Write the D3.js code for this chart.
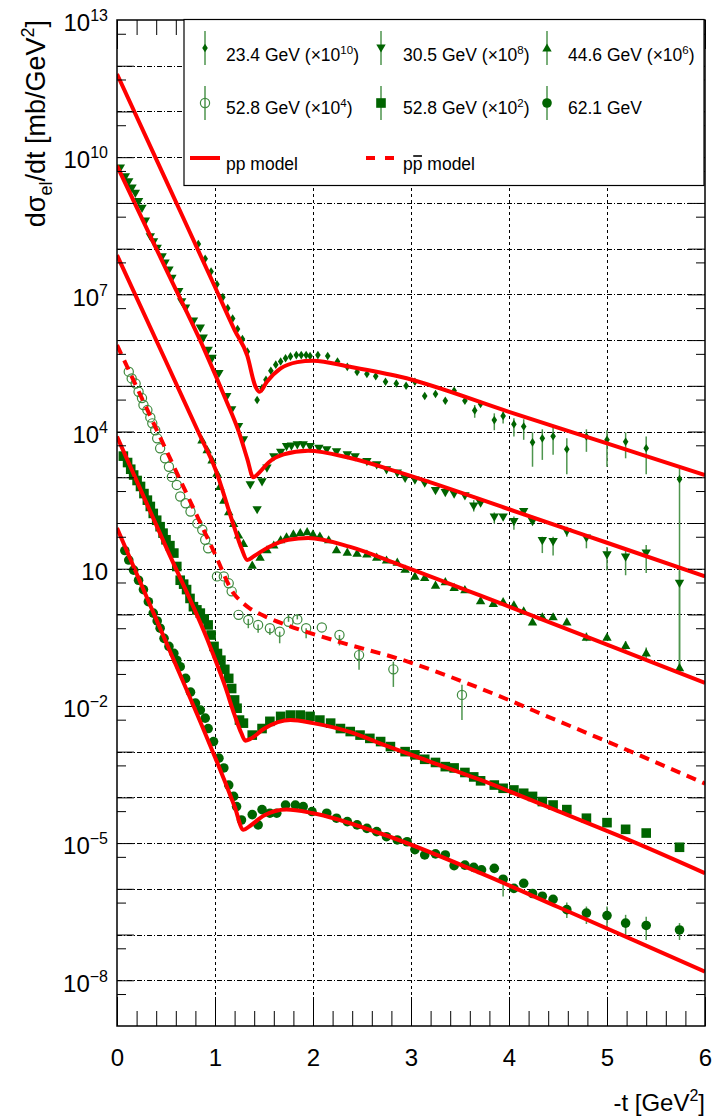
<!DOCTYPE html>
<html>
<meta charset="utf-8">
<style>
  body { margin: 0; background: #fff; }
  svg { font-family: "Liberation Sans", Arial, sans-serif; }
</style>
<body>
<svg width="715" height="1120"></svg>
<script src="https://d3js.org/d3.v7.min.js"></script>
<script>
// ---- model curves (-t in GeV^2, dsigma/dt already multiplied by the offset factor)
let mT23 = [0, 0.5, 1.0, 1.2, 1.33, 1.41, 1.455, 1.53, 1.67, 1.84, 2.0, 2.38, 2.89, 4, 5, 6]
let mV23 = [6.6e11, 3.1e9, 1.45e7, 1.66e6, 4.5e5, 1.0e5, 7.4e4, 1.23e5, 2.4e5, 3.3e5, 3.55e5, 2.6e5, 1.58e5, 2.7e4, 5.5e3, 1.12e3]
let mT30 = [0, 0.5, 0.9, 1.1, 1.25, 1.33, 1.39, 1.45, 1.55, 1.7, 1.95, 2.38, 2.89, 4, 5, 6]
let mV30 = [6.5e9, 3.55e7, 5.6e5, 5.6e4, 8.9e3, 2.5e3, 1.0e3, 1.26e3, 2.14e3, 3.16e3, 3.8e3, 2.63e3, 1.26e3, 2.0e2, 37, 6.8]
let mT44 = [0, 0.5, 0.85, 1.0, 1.19, 1.27, 1.33, 1.4, 1.55, 1.75, 1.95, 2.38, 2.89, 4, 5, 6]
let mV44 = [7.2e7, 3.4e5, 7.9e3, 1.58e3, 89, 28, 15.5, 19, 30, 43, 47, 30, 12, 1.48, 0.22, 0.032]
let mTpb = [0, 0.5, 1.0, 1.19, 1.27, 1.35, 1.5, 1.73, 2.3, 2.89, 3.71, 4.5, 5.3, 6]
let mVpb = [7.8e5, 4.0e3, 21, 2.9, 1.9, 1.38, 0.93, 0.59, 0.24, 0.105, 0.024, 4.7e-3, 8.9e-4, 2.0e-4]
let mT52 = [0, 0.5, 0.95, 1.1, 1.2, 1.27, 1.31, 1.36, 1.5, 1.77, 2.0, 2.4, 2.69, 3.2, 3.71, 4.5, 5.3, 6]
let mV52 = [7.8e3, 30, 0.20, 0.028, 6.3e-3, 2.5e-3, 1.74e-3, 1.9e-3, 3.16e-3, 4.9e-3, 4.2e-3, 2.6e-3, 1.5e-3, 6.0e-4, 2.4e-4, 5.0e-5, 1.0e-5, 2.2e-6]
let mT62 = [0, 0.5, 0.9, 1.1, 1.2, 1.29, 1.36, 1.5, 1.73, 2.0, 2.69, 3.71, 4.5, 5.3, 6]
let mV62 = [78, 0.25, 2.5e-3, 2.24e-4, 6.3e-5, 1.95e-5, 2.4e-5, 4.0e-5, 5.4e-5, 4.5e-5, 1.62e-5, 2.2e-6, 4.0e-7, 7.1e-8, 1.55e-8]

// ---- data points
let t23 = [0.83, 0.90, 0.96, 1.02, 1.08, 1.13, 1.18, 1.23, 1.28, 1.33, 1.43, 1.48, 1.52, 1.57, 1.62, 1.67, 1.72, 1.77, 1.83, 1.88, 1.93, 1.97, 2.05, 2.15, 2.25, 2.35, 2.45, 2.55, 2.64, 2.74, 2.85, 2.95, 3.04, 3.14, 3.25, 3.35, 3.44, 3.55, 3.65, 3.71, 3.85, 3.94, 4.05, 4.15, 4.24, 4.34, 4.45, 4.59, 4.79, 5.0, 5.19, 5.40, 5.74]
let v23 = [1.26e8, 6.0e7, 3.16e7, 1.66e7, 8.7e6, 5.0e6, 2.95e6, 1.74e6, 1.05e6, 5.6e5, 4.9e4, 8.9e4, 1.35e5, 2.14e5, 2.9e5, 3.4e5, 4.0e5, 4.4e5, 4.7e5, 4.7e5, 4.7e5, 4.5e5, 4.7e5, 4.5e5, 3.4e5, 2.6e5, 2.0e5, 1.82e5, 1.62e5, 1.23e5, 1.12e5, 1.0e5, 1.23e5, 6.0e4, 6.6e4, 4.7e4, 7.8e4, 4.7e4, 2.9e4, 4.0e4, 1.78e4, 2.2e4, 1.45e4, 1.29e4, 5.8e3, 7.1e3, 7.9e3, 4.1e3, 7.8e3, 6.6e3, 6.0e3, 4.3e3, 910]
let e23 = [[3.65, 2.0e4, 3.8e4], [3.85, 1.07e4, 2.5e4], [3.94, 1.5e4, 2.7e4], [4.05, 7.8e3, 1.95e4], [4.15, 6.6e3, 1.86e4], [4.24, 1.7e3, 9.5e3], [4.34, 2.4e3, 1.12e4], [4.45, 3.1e3, 1.29e4], [4.59, 1.17e3, 7.1e3], [4.79, 3.6e3, 1.12e4], [5.0, 1.7e3, 1.07e4], [5.19, 2.6e3, 9.5e3], [5.40, 1.17e3, 7.8e3], [5.74, 0.062, 1.58e3]]

let t30 = [0.034, 0.085, 0.12, 0.153, 0.187, 0.22, 0.255, 0.29, 0.34, 0.373, 0.41, 0.46, 0.49, 0.53, 0.56, 0.63, 0.66, 0.70, 0.78, 0.85, 0.88, 0.93, 0.97, 1.04, 1.12, 1.17, 1.24, 1.29, 1.36, 1.43, 1.48, 1.53, 1.6, 1.67, 1.73, 1.78, 1.84, 1.90, 1.97, 2.06, 2.14, 2.24, 2.35, 2.43, 2.55, 2.65, 2.75, 2.86, 2.94, 3.04, 3.14, 3.25, 3.35, 3.44, 3.55, 3.64, 3.71, 3.85, 3.94, 4.05, 4.15, 4.24, 4.34, 4.45, 4.59, 4.79, 5.0, 5.19, 5.40, 5.74]
let v30 = [5.8e9, 3.7e9, 2.9e9, 2.1e9, 1.62e9, 1.07e9, 7.6e8, 4.0e8, 1.82e8, 1.41e8, 1.02e8, 6.6e7, 4.8e7, 3.4e7, 2.24e7, 1.15e7, 6.9e6, 5.0e6, 2.6e6, 1.82e6, 1.1e6, 6.0e5, 4.0e5, 1.86e5, 5.8e4, 3.0e4, 1.29e4, 6.6e3, 680, 195, 790, 1.58e3, 2.8e3, 3.5e3, 4.7e3, 4.8e3, 5.1e3, 5.1e3, 4.7e3, 4.3e3, 4.0e3, 3.6e3, 3.1e3, 2.8e3, 2.2e3, 1.86e3, 1.45e3, 1.23e3, 950, 870, 740, 510, 460, 430, 390, 234, 270, 135, 135, 107, 178, 107, 41, 39, 65, 47, 20, 18, 22, 4.8]
let e30 = [[3.64, 178, 316], [3.85, 98, 170], [4.05, 71, 138], [4.34, 22, 50], [4.45, 19.5, 50], [4.59, 50, 83], [4.79, 28, 55], [5.0, 9.3, 30], [5.19, 7.2, 28], [5.40, 8.1, 33], [5.74, 0.06, 9]]

let t44 = [0.867, 0.92, 0.97, 1.02, 1.05, 1.09, 1.14, 1.19, 1.24, 1.29, 1.38, 1.46, 1.53, 1.6, 1.67, 1.73, 1.8, 1.87, 1.94, 2.0, 2.07, 2.16, 2.24, 2.35, 2.45, 2.55, 2.65, 2.75, 2.86, 2.94, 3.04, 3.14, 3.25, 3.35, 3.44, 3.55, 3.71, 3.84, 3.94, 4.05, 4.15, 4.24, 4.34, 4.45, 4.59, 4.79, 5.0, 5.19, 5.40, 5.74]
let v44 = [6.6e3, 4.0e3, 2.4e3, 1.23e3, 630, 316, 178, 98, 55, 36, 12, 18, 26, 33, 43, 50, 58, 62, 65, 58, 52, 43, 26, 23, 22, 21, 18, 15.5, 14, 9.8, 6.9, 6.5, 4.4, 5.2, 3.9, 3.5, 2.0, 1.74, 1.9, 1.62, 1.2, 0.69, 0.89, 0.89, 0.69, 0.32, 0.32, 0.21, 0.145, 0.069]
let e44 = [[4.79, 0.26, 0.4], [5.19, 0.17, 0.26], [5.40, 0.11, 0.19], [5.74, 0.05, 0.1]]

let tPb = [0.12, 0.15, 0.19, 0.22, 0.255, 0.27, 0.31, 0.34, 0.36, 0.39, 0.41, 0.44, 0.49, 0.53, 0.56, 0.61, 0.645, 0.70, 0.75, 0.82, 0.87, 0.90, 0.93, 1.02, 1.09, 1.14, 1.17, 1.24, 1.34, 1.44, 1.56, 1.66, 1.75, 1.84, 1.93, 2.09, 2.27, 2.47, 2.82, 3.52]
let vPb = [2.04e5, 1.45e5, 1.12e5, 7.4e4, 5.4e4, 3.8e4, 2.95e4, 2.04e4, 1.51e4, 1.07e4, 7.1e3, 4.3e3, 2.6e3, 1.7e3, 1.02e3, 680, 380, 270, 178, 98, 71, 43, 28, 6.8, 6.8, 4.8, 3.2, 0.98, 0.76, 0.59, 0.50, 0.42, 0.69, 0.78, 0.50, 0.52, 0.355, 0.129, 0.063, 0.0174]
let ePb = [[1.34, 0.5, 0.8], [1.44, 0.4, 0.6], [1.56, 0.355, 0.5], [1.66, 0.234, 0.42], [1.75, 0.69, 1.0], [1.84, 0.78, 1.0], [1.93, 0.30, 0.5], [2.27, 0.21, 0.355], [2.47, 0.062, 0.2], [2.82, 0.026, 0.093], [3.52, 0.0049, 0.029]]

let t52 = [0.065, 0.108, 0.14, 0.17, 0.205, 0.24, 0.275, 0.31, 0.34, 0.37, 0.405, 0.44, 0.47, 0.50, 0.54, 0.58, 0.61, 0.645, 0.68, 0.71, 0.745, 0.78, 0.815, 0.85, 0.89, 0.93, 0.96, 0.99, 1.025, 1.06, 1.10, 1.14, 1.17, 1.20, 1.225, 1.25, 1.29, 1.38, 1.48, 1.56, 1.67, 1.77, 1.87, 1.97, 2.07, 2.18, 2.28, 2.38, 2.48, 2.58, 2.69, 2.79, 2.94, 3.04, 3.14, 3.25, 3.35, 3.44, 3.55, 3.64, 3.71, 3.85, 3.94, 4.05, 4.15, 4.24, 4.34, 4.45, 4.59, 4.79, 5.0, 5.19, 5.40, 5.74]
let v52 = [2.9e3, 2.1e3, 1.5e3, 1.12e3, 850, 630, 440, 316, 230, 162, 115, 83, 60, 43, 32, 22, 11.2, 5.6, 4.6, 3.5, 2.24, 1.48, 1.26, 1.07, 0.8, 0.59, 0.355, 0.20, 0.14, 0.10, 0.063, 0.040, 0.024, 0.0135, 8.9e-3, 4.9e-3, 4.2e-3, 2.3e-3, 3.2e-3, 4.6e-3, 5.9e-3, 6.3e-3, 6.3e-3, 5.9e-3, 4.9e-3, 4.2e-3, 3.2e-3, 2.75e-3, 2.3e-3, 1.95e-3, 1.66e-3, 1.29e-3, 1.0e-3, 8.5e-4, 6.8e-4, 5.8e-4, 4.7e-4, 4.4e-4, 3.5e-4, 2.8e-4, 2.3e-4, 1.86e-4, 1.58e-4, 1.45e-4, 1.23e-4, 1.05e-4, 8.1e-5, 6.8e-5, 5.4e-5, 3.5e-5, 2.8e-5, 2.0e-5, 1.66e-5, 8.1e-6]
let e52 = []

let t62 = [0.08, 0.12, 0.17, 0.22, 0.27, 0.32, 0.37, 0.41, 0.44, 0.48, 0.53, 0.58, 0.61, 0.645, 0.70, 0.75, 0.80, 0.85, 0.90, 0.93, 0.985, 1.04, 1.09, 1.14, 1.19, 1.22, 1.27, 1.38, 1.44, 1.48, 1.56, 1.63, 1.72, 1.82, 1.90, 1.99, 2.14, 2.24, 2.35, 2.45, 2.55, 2.65, 2.75, 2.86, 2.96, 3.04, 3.14, 3.25, 3.35, 3.44, 3.55, 3.64, 3.72, 3.85, 3.94, 4.05, 4.15, 4.24, 4.34, 4.45, 4.59, 4.79, 5.0, 5.19, 5.40, 5.74]
let v62 = [25, 15.5, 9.3, 5.6, 3.5, 1.9, 1.07, 0.72, 0.50, 0.30, 0.20, 0.141, 0.10, 0.072, 0.040, 0.020, 0.0115, 8.1e-3, 5.4e-3, 3.2e-3, 1.66e-3, 7.2e-4, 4.4e-4, 1.86e-4, 1.05e-4, 6.3e-5, 3.2e-5, 4.2e-5, 2.5e-5, 5.4e-5, 4.5e-5, 4.5e-5, 6.8e-5, 6.8e-5, 6.3e-5, 4.9e-5, 4.5e-5, 3.5e-5, 2.95e-5, 2.5e-5, 2.1e-5, 1.78e-5, 1.38e-5, 1.17e-5, 1.07e-5, 7.2e-6, 5.5e-6, 5.8e-6, 5.5e-6, 3.2e-6, 3.3e-6, 2.95e-6, 2.6e-6, 2.8e-6, 1.62e-6, 1.02e-6, 1.32e-6, 7.9e-7, 6.9e-7, 5.9e-7, 3.5e-7, 2.95e-7, 2.6e-7, 1.78e-7, 1.58e-7, 1.26e-7]
let e62 = [[3.94, 6.8e-7, 2.0e-6], [4.59, 2.3e-7, 5.0e-7], [4.79, 1.7e-7, 4.1e-7], [5.0, 1.38e-7, 4.1e-7], [5.19, 9.8e-8, 2.7e-7], [5.40, 7.6e-8, 2.45e-7], [5.74, 7.6e-8, 1.78e-7]]

// legend text
let legLabels = ['23.4 GeV', '30.5 GeV', '44.6 GeV', '52.8 GeV', '52.8 GeV', '62.1 GeV']
let legPowers = ['10', '8', '6', '4', '2', '']
let legKinds = ['dia', 'tdn', 'tup', 'oc', 'sq', 'c']

// tick values
let yLabelPowers = [13, 10, 7, 4, 1, -2, -5, -8]
let xLabels = [0, 1, 2, 3, 4, 5, 6]

const green = '#006400'
const barGreen = '#4e954e'

let svg = d3.select('svg')
let x = d3.scaleLinear().domain([0, 6]).range([117, 705])
let y = d3.scaleLog().domain([1e-9, 1e13]).range([1026, 20])

svg.append('defs').append('clipPath').attr('id', 'clip')
  .append('rect').attr('x', 117).attr('y', 20).attr('width', 588).attr('height', 1006)

let decades = d3.range(-8, 13).map(e => +('1e' + e))
let halves = d3.range(-9, 13).map(e => +('5e' + e))
let xMinor = d3.range(1, 30).filter(i => i % 5).map(i => i / 5)

// grid
let grid = svg.append('g').attr('stroke', '#000').attr('stroke-width', 1).attr('shape-rendering', 'crispEdges')
grid.selectAll('.h').data(decades).enter().append('line')
  .attr('x1', 117).attr('x2', 705)
  .attr('y1', d => Math.round(y(d)) + 0.5).attr('y2', d => Math.round(y(d)) + 0.5)
  .attr('stroke-dasharray', '5,2,1,2')
grid.selectAll('.v').data([1, 2, 3, 4, 5]).enter().append('line')
  .attr('x1', d => Math.round(x(d)) + 0.5).attr('x2', d => Math.round(x(d)) + 0.5)
  .attr('y1', 20).attr('y2', 1026)
  .attr('stroke-dasharray', '3,3')

// markers
function drawMarker(g, kind) {
  if (kind === 'oc') {
    g.append('circle').attr('r', 4.6).attr('fill', 'none').attr('stroke', '#3f8a3f').attr('stroke-width', 1.2)
  } else if (kind === 'c') {
    g.append('circle').attr('r', 4.8).attr('fill', green)
  } else if (kind === 'sq') {
    g.append('rect').attr('x', -4.8).attr('y', -4.8).attr('width', 9.6).attr('height', 9.6).attr('fill', green)
  } else {
    let p = { dia: 'M0,-4.3L2.8,0L0,4.3L-2.8,0Z', tdn: 'M-4.7,-3.6L4.7,-3.6L0,4.6Z', tup: 'M-4.7,3.6L4.7,3.6L0,-4.6Z' }[kind]
    g.append('path').attr('d', p).attr('fill', green)
  }
}

let series = [
  { t: t23, v: v23, err: e23, kind: 'dia' },
  { t: t30, v: v30, err: e30, kind: 'tdn' },
  { t: t44, v: v44, err: e44, kind: 'tup' },
  { t: tPb, v: vPb, err: ePb, kind: 'oc' },
  { t: t52, v: v52, err: e52, kind: 'sq' },
  { t: t62, v: v62, err: e62, kind: 'c' }
]

let dataG = svg.append('g').attr('clip-path', 'url(#clip)')
series.forEach(s => {
  let g = dataG.append('g')
  g.selectAll('line').data(s.err).enter().append('line')
    .attr('x1', d => x(d[0])).attr('x2', d => x(d[0]))
    .attr('y1', d => y(d[1])).attr('y2', d => y(d[2]))
    .attr('stroke', barGreen).attr('stroke-width', 1.5)
  g.selectAll('g').data(d3.zip(s.t, s.v)).enter().append('g')
    .attr('transform', d => `translate(${x(d[0])},${y(d[1])})`)
    .each(function () { drawMarker(d3.select(this), s.kind) })
})

// model curves
let line = d3.line().x(d => x(d[0])).y(d => y(d[1])).curve(d3.curveMonotoneX)
let curveG = svg.append('g').attr('clip-path', 'url(#clip)').attr('fill', 'none').attr('stroke', '#ff0000').attr('stroke-width', 4)
;[[mT23, mV23], [mT30, mV30], [mT44, mV44], [mT52, mV52], [mT62, mV62]].forEach(c => {
  curveG.append('path').attr('d', line(d3.zip(c[0], c[1])))
})
curveG.append('path').attr('d', line(d3.zip(mTpb, mVpb))).attr('stroke-dasharray', '10,7')

// frame
svg.append('rect').attr('x', 117).attr('y', 20).attr('width', 588).attr('height', 1006)
  .attr('fill', 'none').attr('stroke', '#000').attr('stroke-width', 1.5)

// ticks
function ticks(axis, tx, ty, vals, size) {
  let g = svg.append('g').attr('transform', `translate(${tx},${ty})`)
    .call(axis.tickValues(vals).tickSize(size).tickFormat(''))
  g.select('.domain').remove()
  g.selectAll('line').attr('stroke', '#000')
}
ticks(d3.axisRight(y), 117, 0, decades, 17)
ticks(d3.axisRight(y), 117, 0, halves, 9)
ticks(d3.axisLeft(y), 705, 0, decades, 17)
ticks(d3.axisLeft(y), 705, 0, halves, 9)
ticks(d3.axisTop(x), 0, 1026, xLabels, 29)
ticks(d3.axisTop(x), 0, 1026, xMinor, 15)
ticks(d3.axisBottom(x), 0, 20, xLabels, 29)
ticks(d3.axisBottom(x), 0, 20, xMinor, 15)

// y labels
let yl = svg.append('g').attr('transform', 'translate(117,0)')
  .call(d3.axisLeft(y).tickValues(yLabelPowers.map(e => +('1e' + e))).tickSize(0).tickPadding(9))
yl.attr('font-family', null).attr('font-size', 24)
yl.select('.domain').remove()
yl.selectAll('text').attr('fill', '#000').attr('dy', '0.45em').each(function (d, i) {
  let e = yLabelPowers[i]
  let t = d3.select(this).text('10')
  if (e !== 1) t.append('tspan').attr('font-size', 16).attr('dy', -10).text(e < 0 ? '\u2212' + (-e) : e)
})

// x labels
let xl = svg.append('g').attr('transform', 'translate(0,1026)')
  .call(d3.axisBottom(x).tickValues(xLabels).tickSize(0).tickPadding(23).tickFormat(d3.format('d')))
xl.attr('font-family', null).attr('font-size', 24)
xl.select('.domain').remove()
xl.selectAll('text').attr('fill', '#000')

// axis titles
let xt = svg.append('text').attr('x', 705).attr('y', 1111).attr('text-anchor', 'end').attr('font-size', 24)
xt.append('tspan').text('-t [GeV')
xt.append('tspan').attr('font-size', 16).attr('dy', -10).text('2')
xt.append('tspan').attr('dy', 10).text(']')

let yt = svg.append('text').attr('transform', 'translate(45,20) rotate(-90)').attr('text-anchor', 'end').attr('font-size', 27)
yt.append('tspan').text('d\u03c3')
yt.append('tspan').attr('font-size', 18).attr('dy', 7).text('el')
yt.append('tspan').attr('dy', -7).text('/dt [mb/GeV')
yt.append('tspan').attr('font-size', 18).attr('dy', -11).text('2')
yt.append('tspan').attr('dy', 11).text(']')

// legend
let leg = svg.append('g')
leg.append('rect').attr('x', 184).attr('y', 19.5).attr('width', 520).attr('height', 166)
  .attr('fill', '#fff').attr('stroke', '#000').attr('stroke-width', 1.2)
let colM = [205, 381, 547], colT = [226, 403, 568], rowM = [48, 103], rowT = [61, 114]
legLabels.forEach((lab, i) => {
  let cx = colM[i % 3], cy = rowM[Math.floor(i / 3)]
  leg.append('line').attr('x1', cx).attr('x2', cx).attr('y1', cy - 17).attr('y2', cy + 17)
    .attr('stroke', barGreen).attr('stroke-width', 1.5)
  drawMarker(leg.append('g').attr('transform', `translate(${cx},${cy})`), legKinds[i])
  let t = leg.append('text').attr('x', colT[i % 3]).attr('y', rowT[Math.floor(i / 3)]).attr('font-size', 17.5)
  if (legPowers[i]) {
    t.append('tspan').text(lab + ' (\u00d710')
    t.append('tspan').attr('font-size', 11.5).attr('dy', -7).text(legPowers[i])
    t.append('tspan').attr('dy', 7).text(')')
  } else {
    t.text(lab)
  }
})
leg.append('line').attr('x1', 190).attr('x2', 220).attr('y1', 158).attr('y2', 158)
  .attr('stroke', '#ff0000').attr('stroke-width', 4)
leg.append('text').attr('x', 226).attr('y', 170).attr('font-size', 17.5).text('pp model')
leg.append('line').attr('x1', 366).attr('x2', 394).attr('y1', 158).attr('y2', 158)
  .attr('stroke', '#ff0000').attr('stroke-width', 4).attr('stroke-dasharray', '9,10')
let pbar = leg.append('text').attr('x', 403).attr('y', 170).attr('font-size', 17.5).text('pp model')
let p0 = pbar.node().getStartPositionOfChar(1).x, p1 = pbar.node().getEndPositionOfChar(1).x
leg.append('line').attr('x1', p0 + 0.5).attr('x2', p1 - 0.5).attr('y1', 156).attr('y2', 156)
  .attr('stroke', '#000').attr('stroke-width', 1.6)
</script>
</body>
</html>
